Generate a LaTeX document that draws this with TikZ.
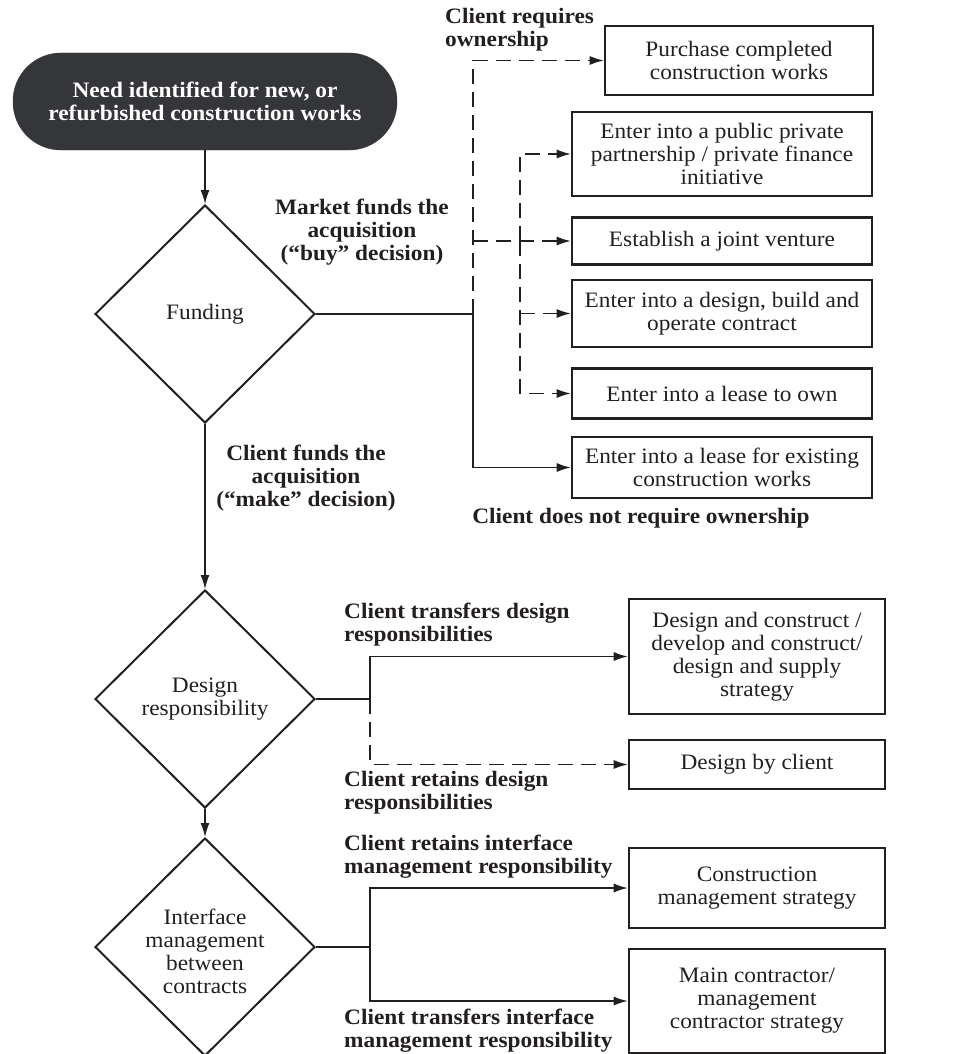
\documentclass[tikz,border=0pt]{standalone}
\usepackage{fontspec}
\setmainfont{Liberation Serif}[FakeStretch=1.06]
\usetikzlibrary{arrows.meta,shapes.geometric}
\definecolor{ink}{HTML}{231F20}
\definecolor{termfill}{HTML}{343639}
\begin{document}
\begin{tikzpicture}[x=1pt,y=-1pt,
  every node/.style={font=\fontsize{22}{23}\selectfont, inner sep=0pt, text=ink},
  lbl/.style={font=\bfseries\fontsize{22}{23}\selectfont, align=left, anchor=west},
  lblc/.style={font=\bfseries\fontsize{22}{23}\selectfont, align=center},
  box/.style={draw=ink, line width=2.6pt, align=center},
  dia/.style={draw=ink, line width=2pt, diamond, minimum width=220pt, minimum height=218pt},
  term/.style={fill=termfill, draw=termfill, rounded corners=48pt, minimum width=384pt, minimum height=97pt, align=center, text=white, font=\bfseries\fontsize{22}{23}\selectfont},
  conn/.style={draw=ink, line width=1.3pt},
  arr/.style={conn, -{Latex[length=14pt,width=9pt]}},
  dsh/.style={dash pattern=on 15pt off 8pt}]
\useasboundingbox (0,0) rectangle (964,1054);

% start
\node[term] (term) at (205,101.5) {Need identified for new, or\\refurbished construction works};

% diamonds
\node[dia] (fund) at (205,314) {};
\node (fundt) at (fund) {Funding};
\node[dia] (des) at (205,699) {};
\node[align=center] (dest) at (des) {Design\\responsibility};
\node[dia] (int) at (205,947) {};
\node[align=center] (intt) at (205,951) {Interface\\management\\between\\contracts};

% boxes
\node[box, minimum width=268pt, minimum height=69pt] (purch) at (739,60.5) {Purchase completed\\construction works};
\node[box, minimum width=300pt, minimum height=84pt] (ppp) at (722,154) {Enter into a public private\\partnership / private finance\\initiative};
\node[box, minimum width=300pt, minimum height=47pt] (jv) at (722,241) {Establish a joint venture};
\node[box, minimum width=300pt, minimum height=67pt] (dbo) at (722,313.5) {Enter into a design, build and\\operate contract};
\node[box, minimum width=300pt, minimum height=50pt] (lto) at (722,393.5) {Enter into a lease to own};
\node[box, minimum width=300pt, minimum height=61pt] (lex) at (722,467.5) {Enter into a lease for existing\\construction works};
\node[box, minimum width=256pt, minimum height=115pt] (dc) at (757,656.5) {Design and construct /\\develop and construct/\\design and supply\\strategy};
\node[box, minimum width=256pt, minimum height=49pt] (dbc) at (757,764.5) {Design by client};
\node[box, minimum width=256pt, minimum height=80pt] (cms) at (757,888) {Construction\\management strategy};
\node[box, minimum width=256pt, minimum height=104pt] (mc) at (757,1001) {Main contractor/\\management\\contractor strategy};

% labels
\node[lbl] (l1) at (445,30) {Client requires\\ownership};
\node[lblc] (l2) at (362,232) {Market funds the\\acquisition\\(“buy” decision)};
\node[lblc] (l3) at (306,478) {Client funds the\\acquisition\\(“make” decision)};
\node[lblc] (l4) at (641,518) {Client does not require ownership};
\node[lbl] (l5) at (344,624.5) {Client transfers design\\responsibilities};
\node[lbl] (l6) at (344,792.5) {Client retains design\\responsibilities};
\node[lbl] (l7) at (344,856.5) {Client retains interface\\management responsibility};
\node[lbl] (l8) at (344,1030.5) {Client transfers interface\\management responsibility};

% main vertical flow
\draw[arr] (term.south) -- (fund.north);
\draw[arr] (fund.south) -- (des.north);
\draw[arr] (des.south) -- (int.north);

% funding branches
\coordinate (j1) at (473,314);
\draw[conn] (fund.east) -- (j1);
\draw[arr,dsh] (j1) |- (purch.west);
\draw[arr,dsh] (j1 |- jv.west) -- (jv.west);
\draw[arr] (j1) |- (lex.west);
\coordinate (k) at (520,241);
\draw[arr,dsh] (k) |- (ppp.west);
\draw[arr,dsh] (k) |- (lto.west);
\draw[arr,dsh] (k |- dbo.west) -- (dbo.west);

% design branches
\coordinate (d1) at (370,699);
\draw[conn] (des.east) -- (d1);
\draw[arr] (d1) |- (dc.west);
\draw[arr,dsh] (d1) |- (dbc.west);

% interface branches
\coordinate (i1) at (370,947);
\draw[conn] (int.east) -- (i1);
\draw[arr] (i1) |- (cms.west);
\draw[arr] (i1) |- (mc.west);
\end{tikzpicture}
\end{document}
